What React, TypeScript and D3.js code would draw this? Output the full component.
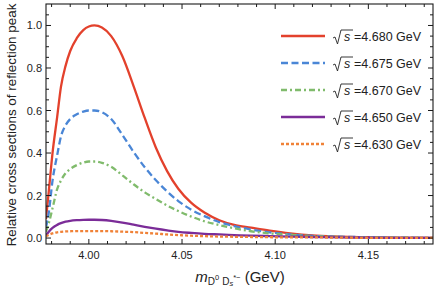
import React from 'react';
import * as d3 from 'd3';

// invariant mass grid (GeV)
const mass = [3.977, 3.9785, 3.9805, 3.983, 3.985, 3.9875, 3.99, 3.9935, 3.997, 4.0, 4.003, 4.007, 4.012, 4.018, 4.024, 4.03, 4.036, 4.042, 4.048, 4.055, 4.062, 4.07, 4.078, 4.087, 4.097, 4.108, 4.12, 4.135, 4.15, 4.165, 4.1847];

const s4680 = [0.09, 0.22, 0.4, 0.57, 0.71, 0.81, 0.88, 0.94, 0.978, 0.995, 1.0, 0.99, 0.95, 0.855, 0.715, 0.565, 0.425, 0.315, 0.232, 0.165, 0.12, 0.084, 0.062, 0.049, 0.035, 0.022, 0.012, 0.007, 0.004, 0.002, 0.001];
const s4675 = [0.05, 0.12, 0.27, 0.39, 0.477, 0.53, 0.56, 0.582, 0.595, 0.6, 0.6, 0.592, 0.56, 0.485, 0.405, 0.333, 0.272, 0.219, 0.174, 0.133, 0.103, 0.075, 0.056, 0.04, 0.027, 0.017, 0.01, 0.006, 0.004, 0.002, 0.001];
const s4670 = [0.03, 0.07, 0.14, 0.23, 0.27, 0.305, 0.325, 0.343, 0.355, 0.36, 0.36, 0.354, 0.335, 0.295, 0.253, 0.215, 0.183, 0.153, 0.127, 0.101, 0.079, 0.061, 0.046, 0.032, 0.022, 0.015, 0.009, 0.005, 0.003, 0.002, 0.001];
const s4650 = [0.012, 0.03, 0.048, 0.062, 0.07, 0.077, 0.081, 0.084, 0.0855, 0.086, 0.086, 0.085, 0.081, 0.073, 0.063, 0.053, 0.044, 0.036, 0.029, 0.024, 0.02, 0.017, 0.014, 0.011, 0.009, 0.007, 0.005, 0.003, 0.002, 0.001, 0.001];
const s4630 = [0.008, 0.015, 0.022, 0.027, 0.029, 0.031, 0.032, 0.033, 0.033, 0.033, 0.033, 0.033, 0.032, 0.03, 0.028, 0.024, 0.021, 0.017, 0.014, 0.011, 0.009, 0.007, 0.006, 0.005, 0.004, 0.003, 0.003, 0.002, 0.001, 0.001, 0.0005];

const energies = ['4.680', '4.675', '4.670', '4.650', '4.630'];
const xTicks = [4.0, 4.05, 4.1, 4.15];
const yTicks = [0, 0.2, 0.4, 0.6, 0.8, 1.0];

const series = [
  { values: s4680, color: '#e3412c', dash: null },
  { values: s4675, color: '#4a86d6', dash: '7,3.5' },
  { values: s4670, color: '#80bb6c', dash: '6,3,2,3' },
  { values: s4650, color: '#7b2c98', dash: null },
  { values: s4630, color: '#f08238', dash: '3,2' },
];

const W = 436, H = 290;
const left = 46, right = 433, top = 4, bottom = 244;
const font = 'Liberation Sans, Arial, sans-serif';

const x = d3.scaleLinear().domain([3.977, 4.1847]).range([left, right]);
const y = d3.scaleLinear().domain([-0.028, 1.101]).range([bottom, top]);

export default function App() {
  const xMinor = d3.range(3.98, 4.185, 0.01).filter(v => !xTicks.some(t => Math.abs(t - v) < 1e-6));
  const yMinor = d3.range(0.05, 1.1, 0.05).filter(v => !yTicks.some(t => Math.abs(t - v) < 1e-6));

  const line = (vals: number[]) =>
    d3.line<number>()
      .x((_, i) => x(mass[i]))
      .y(d => y(d))
      .curve(d3.curveMonotoneX)(vals) as string;

  const legendX = 281, legendY0 = 36, legendStep = 27;

  return (
    <svg width={W} height={H} style={{ position: 'absolute', left: 0, top: 0, background: '#fff' }}>
      <defs>
        <clipPath id="plot">
          <rect x={left} y={top} width={right - left} height={bottom - top} />
        </clipPath>
      </defs>

      {/* curves */}
      <g clipPath="url(#plot)">
        {series.map((s, i) => (
          <path key={i} d={line(s.values)} fill="none" stroke={s.color} strokeWidth={2.3}
            strokeDasharray={s.dash || undefined} />
        ))}
      </g>

      {/* frame */}
      <rect x={left} y={top} width={right - left} height={bottom - top} fill="none" stroke="#1a1a1a" strokeWidth={1.1} />

      {/* x ticks, bottom and top, pointing inward */}
      {xTicks.map(t => (
        <g key={'xt' + t}>
          <line x1={x(t)} x2={x(t)} y1={bottom} y2={bottom - 5} stroke="#1a1a1a" />
          <line x1={x(t)} x2={x(t)} y1={top} y2={top + 5} stroke="#1a1a1a" />
          <text x={x(t)} y={bottom + 15} textAnchor="middle" fontFamily={font} fontSize={11} fill="#222">{t.toFixed(2)}</text>
        </g>
      ))}
      {xMinor.map(t => (
        <g key={'xm' + t}>
          <line x1={x(t)} x2={x(t)} y1={bottom} y2={bottom - 3} stroke="#1a1a1a" />
          <line x1={x(t)} x2={x(t)} y1={top} y2={top + 3} stroke="#1a1a1a" />
        </g>
      ))}

      {/* y ticks, left and right */}
      {yTicks.map(t => (
        <g key={'yt' + t}>
          <line x1={left} x2={left + 5} y1={y(t)} y2={y(t)} stroke="#1a1a1a" />
          <line x1={right} x2={right - 5} y1={y(t)} y2={y(t)} stroke="#1a1a1a" />
          <text x={left - 4} y={y(t) + 4} textAnchor="end" fontFamily={font} fontSize={11} fill="#222">{t.toFixed(1)}</text>
        </g>
      ))}
      {yMinor.map(t => (
        <g key={'ym' + t}>
          <line x1={left} x2={left + 3} y1={y(t)} y2={y(t)} stroke="#1a1a1a" />
          <line x1={right} x2={right - 3} y1={y(t)} y2={y(t)} stroke="#1a1a1a" />
        </g>
      ))}

      {/* axis titles */}
      <text transform={`translate(16,125) rotate(-90)`} textAnchor="middle" fontFamily={font} fontSize={13.4} fill="#222">
        Relative cross sections of reflection peak
      </text>
      <text x={240} y={282} textAnchor="middle" fontFamily={font} fontSize={15} fill="#222">
        <tspan fontStyle="italic">m</tspan>
        <tspan fontSize={10} dy={2.5}>D</tspan>
        <tspan fontSize={7.5} dy={-5}>0</tspan>
        <tspan fontSize={10} dy={5} dx={3}>D</tspan>
        <tspan fontSize={7.5} dy={1.5} fontStyle="italic">s</tspan>
        <tspan fontSize={7.5} dy={-6.5}>*−</tspan>
        <tspan fontSize={15} dy={2.5}> (GeV)</tspan>
      </text>

      {/* legend */}
      {series.map((s, i) => {
        const ly = legendY0 + i * legendStep;
        const rx = legendX + 52;
        return (
          <g key={'lg' + i}>
            <line x1={legendX} x2={legendX + 44} y1={ly} y2={ly} stroke={s.color} strokeWidth={2.3}
              strokeDasharray={s.dash || undefined} />
            <path d={`M${rx},${ly + 2} L${rx + 2},${ly + 1} L${rx + 4.5},${ly + 8} L${rx + 8},${ly - 6} L${rx + 20},${ly - 6}`}
              fill="none" stroke="#222" strokeWidth={0.9} />
            <text x={rx + 11} y={ly + 4.7} fontFamily={font} fontSize={12.5} fontStyle="italic" fill="#222">s</text>
            <text x={rx + 21} y={ly + 4.7} fontFamily={font} fontSize={12.5} fill="#222">{` =${energies[i]} GeV`}</text>
          </g>
        );
      })}
    </svg>
  );
}
